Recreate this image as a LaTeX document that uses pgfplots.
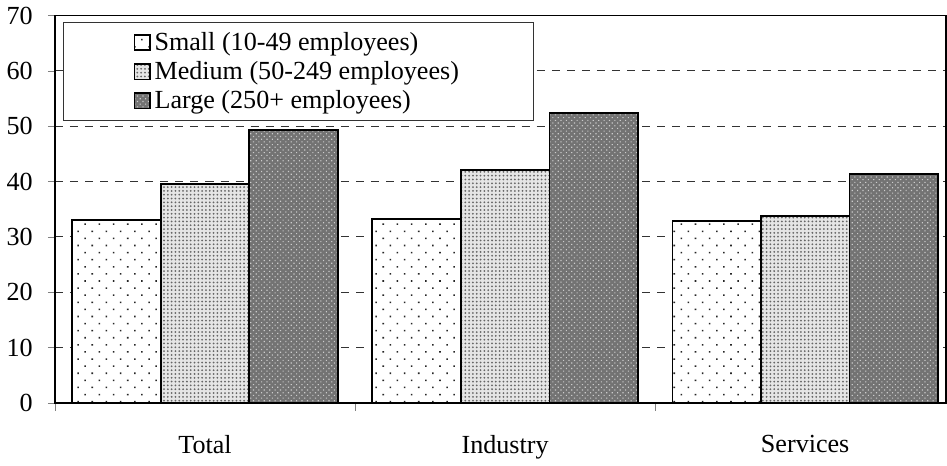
\documentclass[border=0pt]{standalone}
\usepackage{fontspec}
\setmainfont{Liberation Serif}
\usepackage{pgfplots}
\pgfplotsset{compat=1.18}
\usetikzlibrary{patterns.meta}

\pgfplotsset{
  sizebar/.style={draw=black, line width=0.8pt},
  smallbar/.style={sizebar, fill=white,
    postaction={pattern color=black!85, pattern={Dots[distance=5pt,angle=45,radius=0.55pt]}}},
  mediumbar/.style={sizebar, fill=black!10,
    postaction={pattern color=black!60, pattern={Dots[distance=1.9pt,radius=0.5pt]}}},
  largebar/.style={sizebar, fill=black!55,
    postaction={pattern color=white!80!black, pattern={Dots[distance=1.9pt,angle=45,radius=0.4pt]}}},
}

\begin{document}
\begin{tikzpicture}[font=\fontsize{13}{15}\selectfont]
\begin{axis}[
    scale only axis,
    width=444pt, height=193pt,
    ybar=0pt, bar width=0.295,
    xmin=-0.5, xmax=2.47,
    ymin=0, ymax=70,
    ytick={0,10,...,70},
    xtick={0,1,2},
    xticklabels={Total, Industry, Services},
    minor xtick={-0.5,0.5,1.5},
    major x tick style={draw=none},
    minor tick length=4pt,
    major tick length=3.5pt,
    tick align=outside,
    tick pos=left,
    xticklabel style={yshift=-9pt},
    yticklabel style={xshift=-4pt},
    /pgf/number format/assume math mode=true,
    axis line style={line width=0.8pt},
    ymajorgrids=true,
    grid style={black!80, line width=0.6pt, dash pattern=on 4pt off 3.5pt},
    legend style={at={(0.009,0.982)}, anchor=north west, draw=black!80,
      line width=0.5pt, inner xsep=35pt, inner ysep=2.5pt,
      legend cell align=left, row sep=0pt},
    legend image code/.code={\draw[#1] (0pt,-3.8pt) rectangle (7.6pt,3.8pt);},
]
\addplot[smallbar] coordinates {(0,33.1) (1,33.2) (2,32.9)};
\addplot[mediumbar] coordinates {(0,39.6) (1,42.1) (2,33.8)};
\addplot[largebar] coordinates {(0,49.3) (1,52.4) (2,41.4)};
\legend{Small (10-49 employees), Medium (50-249 employees), Large (250+ employees)}
\end{axis}
\end{tikzpicture}
\end{document}
